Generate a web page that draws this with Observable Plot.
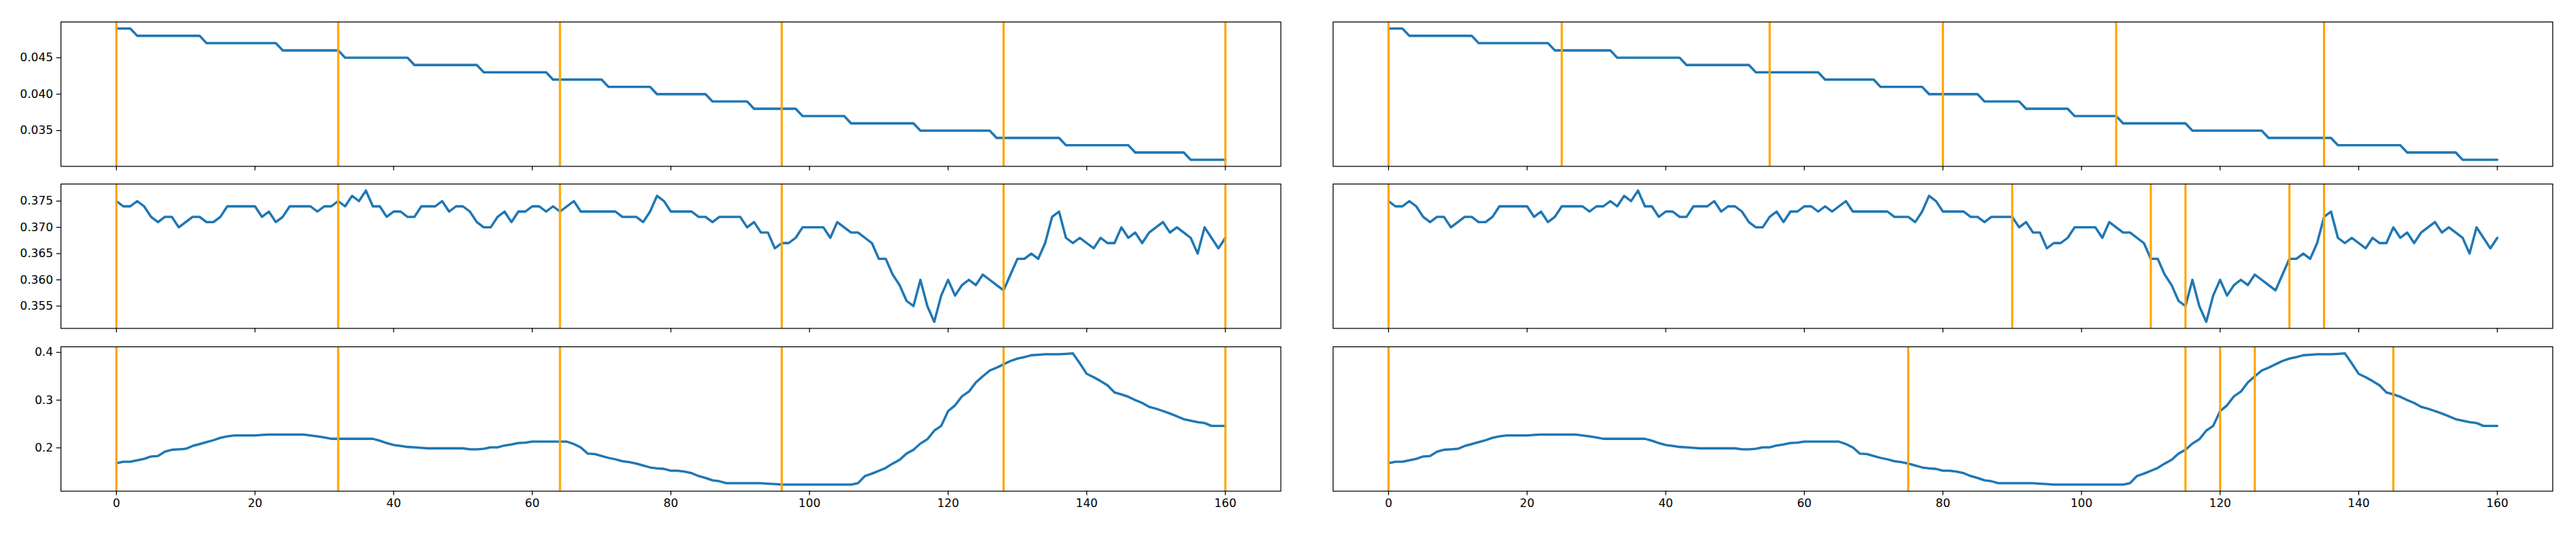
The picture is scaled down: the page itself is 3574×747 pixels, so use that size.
<!DOCTYPE html>
<html><head><meta charset="utf-8">
<script src="https://cdn.jsdelivr.net/npm/d3@7"></script>
<script src="https://cdn.jsdelivr.net/npm/@observablehq/plot@0.6"></script>
<style>
html,body{margin:0;padding:0;background:#fff;}
#chart{position:relative;width:3574px;height:747px;overflow:hidden;background:#fff;}
#chart svg{position:absolute;}
</style></head><body><div id="chart"></div>
<script>
// ---- data ----
const stepValues = [
0.049,0.049,0.049,
0.048,0.048,0.048,0.048,0.048,0.048,0.048,0.048,0.048,0.048,
0.047,0.047,0.047,0.047,0.047,0.047,0.047,0.047,0.047,0.047,0.047,
0.046,0.046,0.046,0.046,0.046,0.046,0.046,0.046,0.046,
0.045,0.045,0.045,0.045,0.045,0.045,0.045,0.045,0.045,0.045,
0.044,0.044,0.044,0.044,0.044,0.044,0.044,0.044,0.044,0.044,
0.043,0.043,0.043,0.043,0.043,0.043,0.043,0.043,0.043,0.043,
0.042,0.042,0.042,0.042,0.042,0.042,0.042,0.042,
0.041,0.041,0.041,0.041,0.041,0.041,0.041,
0.040,0.040,0.040,0.040,0.040,0.040,0.040,0.040,
0.039,0.039,0.039,0.039,0.039,0.039,
0.038,0.038,0.038,0.038,0.038,0.038,0.038,
0.037,0.037,0.037,0.037,0.037,0.037,0.037,
0.036,0.036,0.036,0.036,0.036,0.036,0.036,0.036,0.036,0.036,
0.035,0.035,0.035,0.035,0.035,0.035,0.035,0.035,0.035,0.035,0.035,
0.034,0.034,0.034,0.034,0.034,0.034,0.034,0.034,0.034,0.034,
0.033,0.033,0.033,0.033,0.033,0.033,0.033,0.033,0.033,0.033,
0.032,0.032,0.032,0.032,0.032,0.032,0.032,0.032,
0.031,0.031,0.031,0.031,0.031,0.031
];
const noisyValues = [
0.375,0.374,0.374,0.375,0.374,0.372,0.371,0.372,0.372,0.370,
0.371,0.372,0.372,0.371,0.371,0.372,0.374,0.374,0.374,0.374,
0.374,0.372,0.373,0.371,0.372,0.374,0.374,0.374,0.374,0.373,
0.374,0.374,0.375,0.374,0.376,0.375,0.377,0.374,0.374,0.372,
0.373,0.373,0.372,0.372,0.374,0.374,0.374,0.375,0.373,0.374,
0.374,0.373,0.371,0.370,0.370,0.372,0.373,0.371,0.373,0.373,
0.374,0.374,0.373,0.374,0.373,0.374,0.375,0.373,0.373,0.373,
0.373,0.373,0.373,0.372,0.372,0.372,0.371,0.373,0.376,0.375,
0.373,0.373,0.373,0.373,0.372,0.372,0.371,0.372,0.372,0.372,
0.372,0.370,0.371,0.369,0.369,0.366,0.367,0.367,0.368,0.370,
0.370,0.370,0.370,0.368,0.371,0.370,0.369,0.369,0.368,0.367,
0.364,0.364,0.361,0.359,0.356,0.355,0.360,0.355,0.352,0.357,
0.360,0.357,0.359,0.360,0.359,0.361,0.360,0.359,0.358,0.361,
0.364,0.364,0.365,0.364,0.367,0.372,0.373,0.368,0.367,0.368,
0.367,0.366,0.368,0.367,0.367,0.370,0.368,0.369,0.367,0.369,
0.370,0.371,0.369,0.370,0.369,0.368,0.365,0.370,0.368,0.366,
0.368
];
const smoothValues = [
0.168,0.171,0.171,0.174,0.177,0.182,0.183,0.192,0.196,0.197,
0.198,0.204,0.208,0.212,0.216,0.221,0.224,0.226,0.226,0.226,
0.226,0.227,0.228,0.228,0.228,0.228,0.228,0.228,0.226,0.224,
0.222,0.219,0.219,0.219,0.219,0.219,0.219,0.219,0.215,0.210,
0.206,0.204,0.202,0.201,0.200,0.199,0.199,0.199,0.199,0.199,
0.199,0.197,0.197,0.198,0.201,0.201,0.205,0.207,0.210,0.211,
0.213,0.213,0.213,0.213,0.213,0.213,0.208,0.201,0.188,0.187,
0.183,0.179,0.176,0.172,0.170,0.167,0.163,0.159,0.157,0.156,
0.152,0.152,0.150,0.147,0.141,0.137,0.132,0.130,0.126,0.126,
0.126,0.126,0.126,0.126,0.125,0.124,0.123,0.123,0.123,0.123,
0.123,0.123,0.123,0.123,0.123,0.123,0.123,0.126,0.141,0.146,
0.152,0.158,0.167,0.175,0.188,0.196,0.209,0.218,0.236,0.246,
0.277,0.289,0.308,0.318,0.337,0.350,0.362,0.368,0.375,0.382,
0.387,0.390,0.394,0.395,0.396,0.396,0.396,0.397,0.398,0.377,
0.355,0.348,0.340,0.331,0.316,0.312,0.307,0.300,0.294,0.286,
0.282,0.277,0.272,0.266,0.260,0.257,0.254,0.252,0.246,0.246,
0.246
];
const xTicks = [0, 20, 40, 60, 80, 100, 120, 140, 160];
const yTicksTop = [0.035, 0.040, 0.045];
const yTicksMid = [0.355, 0.360, 0.365, 0.370, 0.375];
const yTicksBot = [0.2, 0.3, 0.4];
const splitsLeft = [0, 32, 64, 96, 128, 160];
const splitsRightTop = [0, 25, 55, 80, 105, 135];
const splitsRightMid = [0, 90, 110, 115, 130, 135];
const splitsRightBot = [0, 75, 115, 120, 125, 145];

// ---- layout ----
const colFrames = [[84.4, 1777], [1848.7, 3541]];
const rowFrames = [[29.5, 230], [255, 455.5], [480.5, 681]];
const chart = document.getElementById("chart");

function panel(values, yTicks, yFmt, splits, col, row) {
  const [fl, fr] = colFrames[col];
  const [ft, fb] = rowFrames[row];
  const ml = col === 0 ? 84 : 4, mr = 4, mt = 4, mb = row === 2 ? 50 : 14;
  const data = values.map((v, i) => ({x: i, y: v}));
  const [lo, hi] = d3.extent(values);
  const pad = (hi - lo) * 0.05;
  const xpad = (values.length - 1) * 0.05;
  const marks = [
    Plot.line(data, {x: "x", y: "y", stroke: "#1f77b4", strokeWidth: 3.3}),
    Plot.ruleX(splits, {stroke: "orange", strokeWidth: 3}),
    Plot.frame({stroke: "black", strokeWidth: 1.2}),
    Plot.axisX({ticks: xTicks, tickSize: 6, tickPadding: 5, strokeWidth: 1.2,
      tickFormat: row === 2 ? (d => String(d)) : (() => ""), label: null})
  ];
  if (col === 0) marks.push(Plot.axisY({ticks: yTicks, tickSize: 6, tickPadding: 5, strokeWidth: 1.2, tickFormat: yFmt, label: null}));
  const svg = Plot.plot({
    width: fr - fl + ml + mr, height: fb - ft + mt + mb,
    marginLeft: ml, marginRight: mr, marginTop: mt, marginBottom: mb,
    style: {background: "transparent", fontFamily: "'DejaVu Sans', sans-serif", fontSize: "16px", color: "black", overflow: "visible"},
    x: {domain: [-xpad, values.length - 1 + xpad], axis: null},
    y: {domain: [lo - pad, hi + pad], axis: null},
    marks
  });
  svg.style.left = (fl - ml) + "px";
  svg.style.top = (ft - mt) + "px";
  chart.appendChild(svg);
}

const f3 = d3.format(".3f"), f1 = d3.format(".1f");
panel(stepValues, yTicksTop, f3, splitsLeft, 0, 0);
panel(noisyValues, yTicksMid, f3, splitsLeft, 0, 1);
panel(smoothValues, yTicksBot, f1, splitsLeft, 0, 2);
panel(stepValues, yTicksTop, f3, splitsRightTop, 1, 0);
panel(noisyValues, yTicksMid, f3, splitsRightMid, 1, 1);
panel(smoothValues, yTicksBot, f1, splitsRightBot, 1, 2);
</script></body></html>
